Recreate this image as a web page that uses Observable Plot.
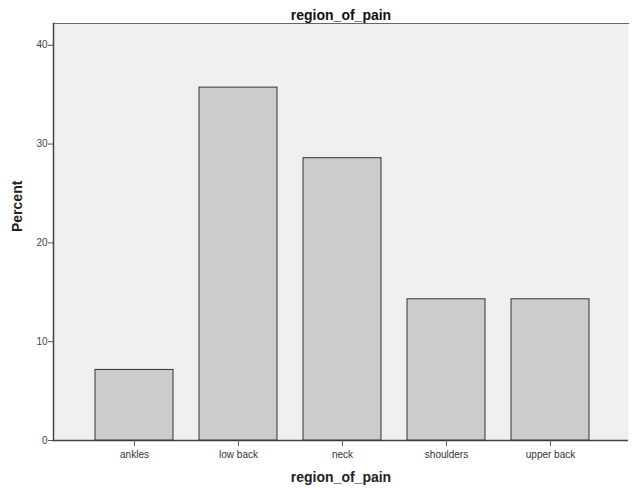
<!DOCTYPE html>
<html>
<head>
<meta charset="utf-8">
<script src="https://cdn.jsdelivr.net/npm/d3@7"></script>
<script src="https://cdn.jsdelivr.net/npm/@observablehq/plot@0.6"></script>
<style>
  body { margin: 0; background: #fff; font-family: "Liberation Sans", Arial, sans-serif; }
</style>
</head>
<body>
<div id="chart"></div>
<script>
const categories = ["ankles", "low back", "neck", "shoulders", "upper back"];
const percents = [7.14, 35.71, 28.57, 14.29, 14.29];
const yTicks = [0, 10, 20, 30, 40];
const chartTitle = "region_of_pain";
const xLabel = "region_of_pain";
const yLabel = "Percent";

const data = categories.map((c, i) => ({region: c, percent: percents[i]}));

const chart = Plot.plot({
  width: 640,
  height: 494,
  marginTop: 23,
  marginBottom: 54,
  marginLeft: 53,
  marginRight: 12,
  style: {fontFamily: "Liberation Sans, Arial, sans-serif", fontSize: "10px", color: "#444", background: "#fff"},
  x: {domain: categories, range: [56, 628], paddingInner: 0.25, paddingOuter: 0.375, label: null},
  y: {domain: [0, 42.2], label: null},
  marks: [
    Plot.frame({fill: "#f0f0f0", stroke: null}),
    Plot.ruleY([0], {stroke: "#444", strokeWidth: 1.5}),
    Plot.frame({anchor: "top", stroke: "#666", strokeWidth: 1.2}),
    Plot.frame({anchor: "left", stroke: "#444", strokeWidth: 1.5}),
    Plot.barY(data, {x: "region", y: "percent", fill: "#cccccc", stroke: "#333", strokeWidth: 1}),
    Plot.axisY(yTicks, {tickSize: 5, tickPadding: 1, stroke: "#555", fill: "#444", fontSize: 10, label: null}),
    Plot.axisX({tickSize: 6, tickPadding: 4, stroke: "#555", fill: "#333", fontSize: 10, label: null}),
    Plot.text([chartTitle], {frameAnchor: "top", dy: -13, fontSize: 14, fontWeight: "bold", fill: "#111"}),
    Plot.text([xLabel], {frameAnchor: "bottom", dy: 41, fontSize: 14, fontWeight: "bold", fill: "#222"}),
    Plot.text([yLabel], {frameAnchor: "left", dx: -36, rotate: -90, fontSize: 14, fontWeight: "bold", fill: "#222"})
  ]
});
document.getElementById("chart").appendChild(chart);
</script>
</body>
</html>
